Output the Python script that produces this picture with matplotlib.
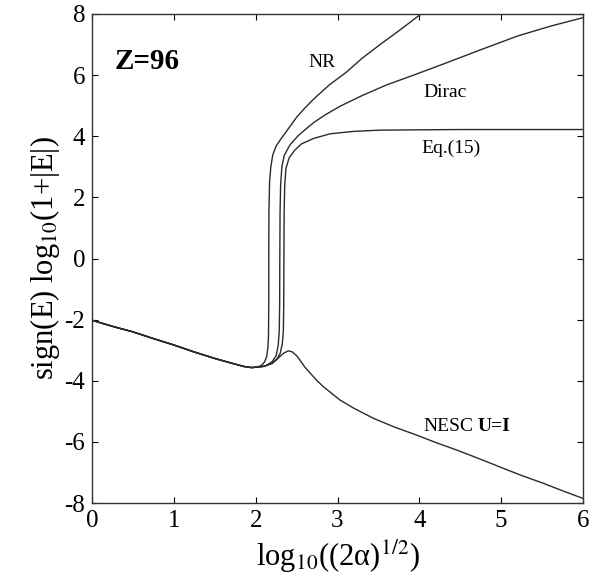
import matplotlib
matplotlib.use("Agg")
import matplotlib.pyplot as plt
import numpy as np

# ---- data ----
common_x = [0.0, 0.25, 0.5, 0.75, 1.0, 1.25, 1.5, 1.7, 1.85, 1.95]
common_y = [-2.02, -2.22, -2.40, -2.62, -2.83, -3.06, -3.27, -3.42, -3.53, -3.57]

nr_x = [2.02, 2.07, 2.11, 2.135, 2.15, 2.157, 2.16, 2.16, 2.162, 2.17, 2.185, 2.21, 2.25, 2.30,
        2.40, 2.50, 2.60, 2.71, 2.90, 3.11, 3.30, 3.52, 3.75, 4.02]
nr_y = [-3.55, -3.50, -3.38, -3.20, -2.90, -2.50, -1.50, 0.0, 1.50, 2.50, 3.00, 3.40, 3.68, 3.88,
        4.25, 4.62, 4.92, 5.22, 5.68, 6.10, 6.55, 7.00, 7.45, 8.00]

dirac_x = [2.05, 2.13, 2.20, 2.25, 2.275, 2.288, 2.293, 2.295, 2.298, 2.305, 2.32, 2.35, 2.42,
           2.52, 2.62, 2.71, 2.85, 3.03, 3.30, 3.60, 3.93, 4.30, 4.74, 5.20, 5.60, 6.00]
dirac_y = [-3.55, -3.50, -3.38, -3.18, -2.85, -2.40, -1.50, 0.0, 1.50, 2.40, 3.00, 3.38, 3.72,
           4.02, 4.25, 4.45, 4.70, 4.98, 5.33, 5.68, 6.00, 6.37, 6.82, 7.28, 7.60, 7.88]

eq15_x = [2.10, 2.20, 2.26, 2.30, 2.325, 2.338, 2.343, 2.345, 2.348, 2.355, 2.37, 2.41, 2.48,
          2.56, 2.71, 2.91, 3.20, 3.52, 4.50, 6.00]
eq15_y = [-3.53, -3.44, -3.30, -3.10, -2.80, -2.40, -1.50, 0.0, 1.50, 2.40, 2.95, 3.30, 3.55,
          3.75, 3.93, 4.08, 4.16, 4.20, 4.22, 4.22]

nesc_x = [2.10, 2.20, 2.28, 2.34, 2.40, 2.45, 2.50, 2.54, 2.60, 2.67, 2.75, 2.83, 3.03, 3.20,
          3.44, 3.70, 3.97, 4.20, 4.46, 4.75, 5.03, 5.25, 5.52, 5.75, 6.00]
nesc_y = [-3.53, -3.42, -3.25, -3.10, -3.02, -3.06, -3.18, -3.32, -3.55, -3.76, -4.00, -4.20,
          -4.63, -4.90, -5.23, -5.52, -5.78, -6.02, -6.27, -6.57, -6.87, -7.10, -7.36, -7.60, -7.85]

x_ticks = [0, 1, 2, 3, 4, 5, 6]
y_ticks = [-8, -6, -4, -2, 0, 2, 4, 6, 8]

# ---- style ----
plt.rcParams['font.family'] = ['Liberation Serif', 'DejaVu Serif']
plt.rcParams['mathtext.fontset'] = 'stix'
plt.rcParams['axes.unicode_minus'] = False

fig = plt.figure(figsize=(5.95, 5.85), dpi=100)
ax = fig.add_axes([92/595, 1 - 503/585, (583-92)/595, (503-14)/585])

lc = '#2a2a2a'
lw = 1.0
for bx, by in [(nr_x, nr_y), (dirac_x, dirac_y), (eq15_x, eq15_y), (nesc_x, nesc_y)]:
    ax.plot(common_x + bx, common_y + by, color=lc, lw=lw, solid_joinstyle='round')

ax.set_xlim(0, 6)
ax.set_ylim(-8, 8)
ax.set_xticks(x_ticks)
ax.set_yticks(y_ticks)
ax.tick_params(direction='in', top=True, right=True, length=4, width=0.8,
               labelsize=18, pad=5)
for s in ax.spines.values():
    s.set_linewidth(1.0)
    s.set_color('#333333')

ax.set_xlabel(r'log$_{10}$((2α)$^{1/2}$)', fontsize=22, labelpad=4)
ax.set_ylabel(r'sign(E) log$_{10}$(1+|E|)', fontsize=22, labelpad=2)

ax.text(0.28, 6.2, 'Z=96', fontsize=21, fontweight='bold')
ax.text(2.64, 6.27, 'NR', fontsize=14)
ax.text(4.05, 5.28, 'Dirac', fontsize=14)
ax.text(4.03, 3.45, 'Eq.(15)', fontsize=14)
t_nesc = ax.text(4.05, -5.65, 'NESC', fontsize=14, va='baseline')
ax.annotate('U=I', xy=(1, 0), xycoords=t_nesc, xytext=(3, 0),
            textcoords='offset points', fontsize=14, fontweight='bold',
            ha='left', va='bottom')

fig.savefig('out.png', dpi=100)
